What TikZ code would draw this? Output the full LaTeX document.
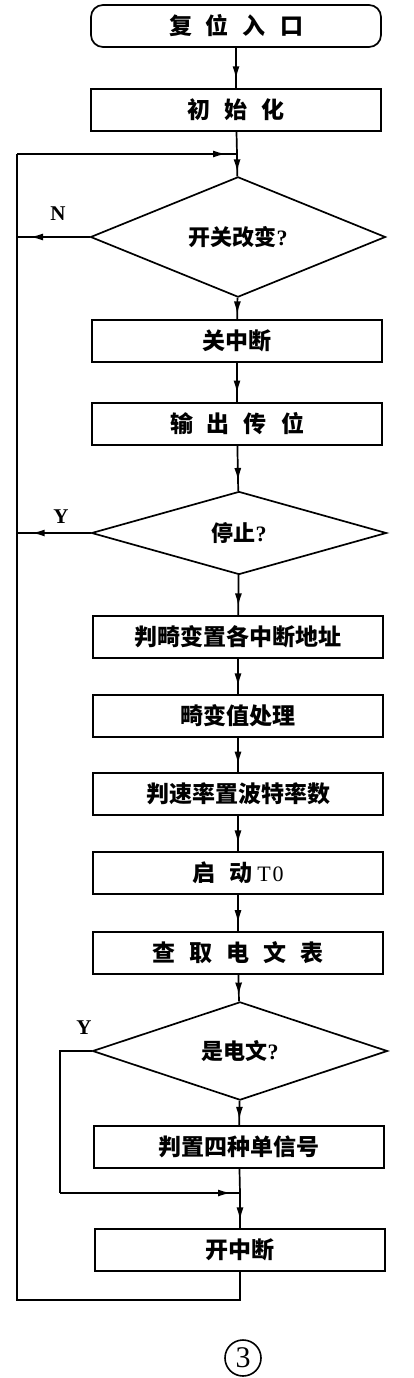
\documentclass[tikz,border=0pt]{standalone}
\usepackage{fontspec}
\setmainfont{Liberation Serif}
\newfontfamily\cjk{Noto Sans CJK SC}
\usetikzlibrary{shapes.geometric,arrows.meta,decorations.markings}
\newcommand\gp{\hspace{14pt}}
\newcommand\qm{{\rmfamily\bfseries ?}}
\tikzset{
  line/.style={line width=1.7pt},
  txt/.style={font=\cjk\bfseries\fontsize{23}{23}\selectfont},
  box/.style={draw,line width=1.7pt,minimum width=290pt,minimum height=42pt,inner sep=0pt,txt},
  term/.style={box,rounded corners=12pt},
  dec/.style={draw,diamond,line width=1.7pt,minimum width=295pt,minimum height=83pt,inner sep=0pt,font=\cjk\bfseries\fontsize{22}{22}\selectfont},
  arr/.style={line,postaction={decorate},decoration={markings,mark=at position #1 with {\arrow{Latex[length=13pt,width=7pt]}}}},
  arr/.default=0.78,
  lab/.style={font=\bfseries\fontsize{21}{21}\selectfont},
}
\begin{document}
\begin{tikzpicture}[x=1pt,y=-1pt]
\useasboundingbox (0,0) rectangle (413,1378);
\node[term] (s)  at (236,26)   {复\gp 位\gp 入\gp 口};
\node[box]  (in) at (236,110)  {初\gp 始\gp 化};
\coordinate (j1) at (237,154);
\node[dec]  (d1) at (238,237)  {开关改变\qm};
\node[box]  (gz) at (237,341)  {关中断};
\node[box]  (sc) at (237,424)  {输\gp 出\gp 传\gp 位};
\node[dec]  (d2) at (239,533)  {停止\qm};
\node[box]  (pj) at (238,637)  {判畸变置各中断地址};
\node[box]  (jb) at (238,716)  {畸变值处理};
\node[box]  (ps) at (238,794)  {判速率置波特率数};
\node[box]  (qd) at (238,873)  {启\gp 动\hspace{5pt}{\rmfamily\mdseries\fontsize{22}{22}\selectfont T\hspace{2pt}0}};
\node[box]  (cq) at (238,953)  {查\gp 取\gp 电\gp 文\gp 表};
\node[dec]  (d3) at (240,1051) {是电文\qm};
\node[box]  (pz) at (239,1147) {判置四种单信号};
\coordinate (j2) at (240,1193);
\node[box]  (kz) at (240,1250) {开中断};
\coordinate (tl) at (17,154);
\coordinate (bl) at (17,1300);
\coordinate (yl) at (60,1193);

\node[lab] (nN) at (58,214) {N};
\node[lab] (nY1) at (61,517) {Y};
\node[lab] (nY2) at (84,1028) {Y};
\node[circle,draw,line width=1.6pt,minimum size=36pt,inner sep=0pt,font=\fontsize{30}{30}\selectfont] (num) at (243,1358) {3};

\draw[arr] (s) -- (in);
\draw[line] (in) -- (j1);
\draw[arr=0.82] (j1) -- (d1);
\draw[arr=0.82] (d1.west) -- (d1.west -| tl);
\draw[arr] (d1) -- (gz);
\draw[arr] (gz) -- (sc);
\draw[arr] (sc) -- (d2);
\draw[arr=0.8] (d2.west) -- (d2.west -| tl);
\draw[arr] (d2) -- (pj);
\draw[arr] (pj) -- (jb);
\draw[arr] (jb) -- (ps);
\draw[arr] (ps) -- (qd);
\draw[arr] (qd) -- (cq);
\draw[arr] (cq) -- (d3);
\draw[arr] (d3) -- (pz);
\draw[line] (pz) -- (j2);
\draw[arr] (j2) -- (kz);
\draw[line] (d3.west) -- (d3.west -| yl) -- (yl);
\draw[arr=0.95] (yl) -- (j2);
\draw[line] (kz.south) -- (kz.south |- bl) -- (bl) -- (tl);
\draw[arr=0.95] (tl) -- (j1);
\end{tikzpicture}
\end{document}
